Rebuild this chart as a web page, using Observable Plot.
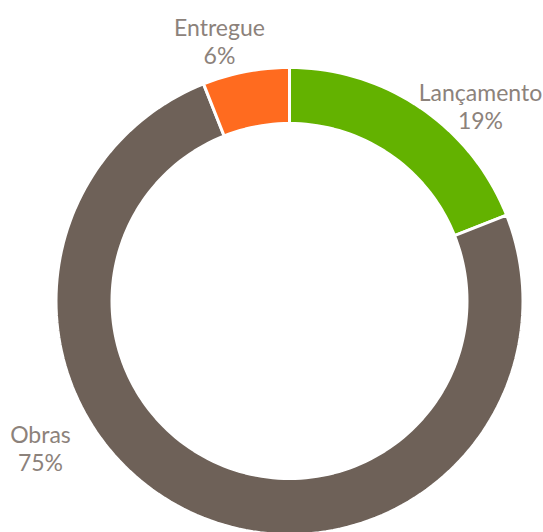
<!DOCTYPE html>
<html>
<head>
<meta charset="utf-8">
<script src="https://cdn.jsdelivr.net/npm/d3@7"></script>
<script src="https://cdn.jsdelivr.net/npm/@observablehq/plot@0.6"></script>
<style>
  html, body { margin: 0; padding: 0; background: #ffffff; }
  #chart svg { display: block; }
</style>
</head>
<body>
<div id="chart"></div>
<script>
// ---- data ----
const categories = ["Lançamento", "Obras", "Entregue"];
const values = [19, 75, 6];
const labels = ["19%", "75%", "6%"];
const colors = ["#63b200", "#6e6158", "#ff6b1f"];

// ---- layout ----
const W = 543, H = 532;
const cx = 289, cy = 300.5;      // pixel centre of the ring
const R = 233.5, r = 177.5;      // outer / inner radius in px
// label anchor offsets from centre (px, y up)
const labelAt = {
  "Lançamento": [191, 195],
  "Obras": [-249, -147],
  "Entregue": [-70, 260]
};

const total = d3.sum(values);
const pie = d3.pie().sort(null).value(d => d.value)(
  categories.map((c, i) => ({ cat: c, value: values[i], label: labels[i] }))
);

// build ring polygons from the pie angles
const pts = [];
const steps = 200;
for (const p of pie) {
  const a0 = p.startAngle, a1 = p.endAngle;
  const n = Math.max(4, Math.ceil(steps * (a1 - a0) / (2 * Math.PI)));
  for (let k = 0; k <= n; k++) {
    const a = a0 + (a1 - a0) * k / n;
    pts.push({ cat: p.data.cat, x: R * Math.sin(a), y: R * Math.cos(a) });
  }
  for (let k = n; k >= 0; k--) {
    const a = a0 + (a1 - a0) * k / n;
    pts.push({ cat: p.data.cat, x: r * Math.sin(a), y: r * Math.cos(a) });
  }
}

const textData = pie.map(p => ({
  text: p.data.cat + "\n" + p.data.label,
  x: labelAt[p.data.cat][0],
  y: labelAt[p.data.cat][1]
}));

const chart = Plot.plot({
  width: W,
  height: H,
  margin: 0,
  x: { domain: [-cx, W - cx], axis: null },
  y: { domain: [-(H - cy), cy], axis: null },
  color: { domain: categories, range: colors },
  marks: [
    Plot.line(pts, {
      x: "x", y: "y", z: "cat", fill: "cat",
      stroke: "#ffffff", strokeWidth: 3, curve: "linear-closed"
    }),
    Plot.text(textData, {
      x: "x", y: "y", text: "text",
      fill: "#8c827b", fontSize: 23, lineHeight: 1.22,
      fontFamily: "Lato, 'Open Sans', sans-serif"
    })
  ]
});
document.getElementById("chart").appendChild(chart);
</script>
</body>
</html>
